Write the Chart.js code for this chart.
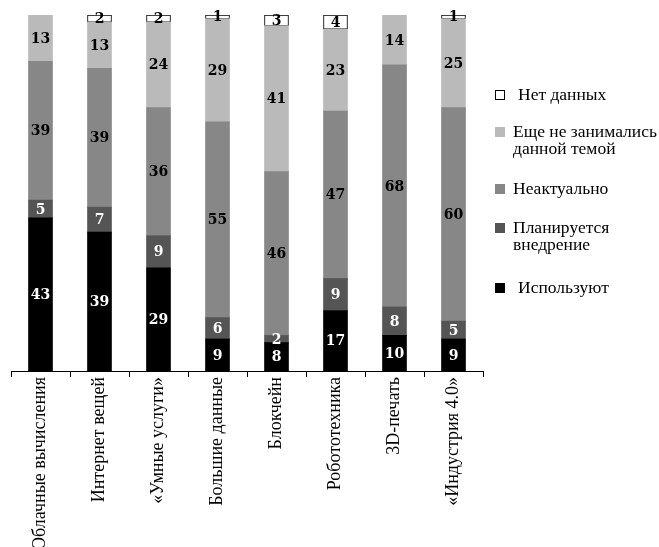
<!DOCTYPE html>
<html>
<head>
<meta charset="utf-8">
<script src="https://cdn.jsdelivr.net/npm/chart.js@4.4.1/dist/chart.umd.min.js"></script>
<style>
  html, body { margin: 0; padding: 0; background: #fff; }
  #wrap { position: relative; width: 659px; height: 547px; }
</style>
</head>
<body>
<div id="wrap"><canvas id="c" width="659" height="547"></canvas></div>
<script>
// Technologies surveyed (x-axis categories)
const categories = [
  'Облачные вычисления', 'Интернет вещей', '«Умные услуги»', 'Большие данные',
  'Блокчейн', 'Робототехника', '3D-печать', '«Индустрия 4.0»'
];

// Shares of respondents, %, stacked bottom to top
const using      = [43, 39, 29, 9, 8, 17, 10, 9];
const planned    = [5, 7, 9, 6, 2, 9, 8, 5];
const irrelevant = [39, 39, 36, 55, 46, 47, 68, 60];
const notYet     = [13, 13, 24, 29, 41, 23, 14, 25];
const noData     = [0, 2, 2, 1, 3, 4, 0, 1];

// Legend texts, top to bottom (lines split for wrapping)
const legendNoData     = ['Нет данных'];
const legendNotYet     = ['Еще не занимались', 'данной темой'];
const legendIrrelevant = ['Неактуально'];
const legendPlanned    = ['Планируется', 'внедрение'];
const legendUsing      = ['Используют'];

const serif = '"Liberation Serif", "DejaVu Serif", serif';

const datasets = [
  { label: legendUsing.join(' '), data: using, backgroundColor: '#000000', textColor: '#ffffff', legend: legendUsing },
  { label: legendPlanned.join(' '), data: planned, backgroundColor: '#555555', textColor: '#ffffff', legend: legendPlanned },
  { label: legendIrrelevant.join(' '), data: irrelevant, backgroundColor: '#878787', textColor: '#000000', legend: legendIrrelevant },
  { label: legendNotYet.join(' '), data: notYet, backgroundColor: '#bababa', textColor: '#000000', legend: legendNotYet },
  { label: legendNoData.join(' '), data: noData, backgroundColor: '#ffffff', borderColor: '#000000',
    borderWidth: 1, borderSkipped: false, textColor: '#000000', legend: legendNoData }
].map(d => Object.assign({ barThickness: 24, borderWidth: 0 }, d));

// Value labels in the middle of each segment
const segmentLabels = {
  id: 'segmentLabels',
  afterDatasetsDraw(chart) {
    const ctx = chart.ctx;
    ctx.save();
    ctx.font = 'bold 14px "DejaVu Serif", serif';
    ctx.textAlign = 'center';
    ctx.textBaseline = 'middle';
    chart.data.datasets.forEach((ds, i) => {
      const meta = chart.getDatasetMeta(i);
      meta.data.forEach((bar, j) => {
        const v = ds.data[j];
        if (!v) return;
        const p = bar.getProps(['x', 'y', 'base'], true);
        ctx.fillStyle = ds.textColor;
        ctx.fillText(String(v), p.x, (p.y + p.base) / 2 + 1);
      });
    });
    ctx.restore();
  }
};

// Legend on the right, listed from the top segment down
const sideLegend = {
  id: 'sideLegend',
  afterDraw(chart) {
    const ctx = chart.ctx;
    const items = chart.data.datasets.slice().reverse();
    const rows = [95, 132, 189, 228, 288];
    const textX = [518, 513, 513, 513, 518];
    ctx.save();
    ctx.font = '17.5px ' + serif;
    ctx.textBaseline = 'middle';
    ctx.textAlign = 'left';
    items.forEach((ds, k) => {
      const y = rows[k];
      ctx.fillStyle = ds.backgroundColor;
      ctx.fillRect(495, y - 5, 10, 10);
      if (ds.borderColor) {
        ctx.strokeStyle = ds.borderColor;
        ctx.lineWidth = 1;
        ctx.strokeRect(495.5, y - 4.5, 9, 9);
      }
      ctx.fillStyle = '#000';
      ds.legend.forEach((line, n) => ctx.fillText(line, textX[k], y + n * 17.5));
    });
    ctx.restore();
  }
};

new Chart(document.getElementById('c'), {
  type: 'bar',
  data: { labels: categories, datasets },
  options: {
    responsive: false,
    animation: false,
    layout: { padding: { left: 11, top: 15, right: 176, bottom: 0 } },
    plugins: { legend: { display: false }, tooltip: { enabled: false } },
    scales: {
      x: {
        stacked: true,
        offset: true,
        afterFit(scale) { scale.height = 176; },
        border: { display: true, color: '#000', width: 1 },
        grid: { offset: true, drawOnChartArea: false, drawTicks: true, tickLength: 6, color: '#000' },
        ticks: {
          color: '#000', padding: 0, maxRotation: 90, minRotation: 90, autoSkip: false,
          font: { family: serif, size: 18 }
        }
      },
      y: { stacked: true, display: false, min: 0, max: 100 }
    }
  },
  plugins: [segmentLabels, sideLegend]
});
</script>
</body>
</html>
